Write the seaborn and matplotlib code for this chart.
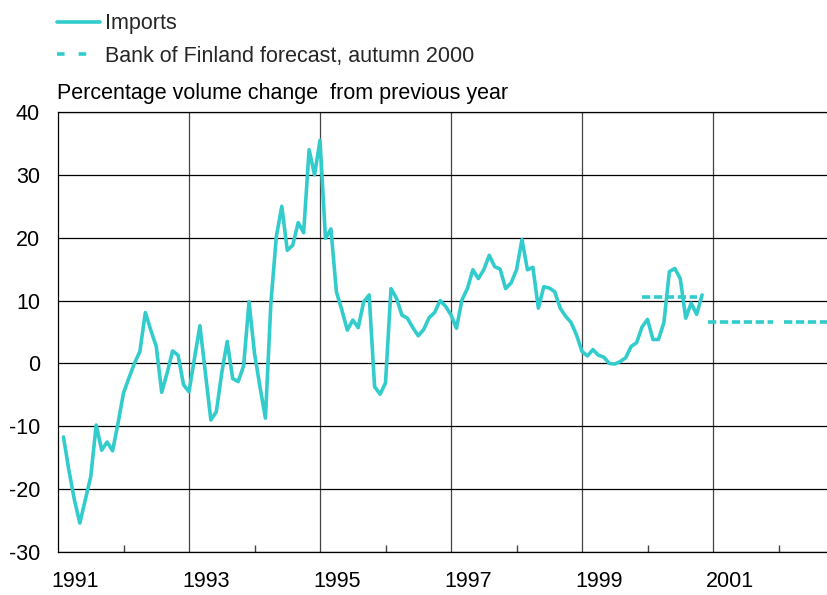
import matplotlib
matplotlib.use("Agg")
import matplotlib.pyplot as plt
from matplotlib.lines import Line2D
import seaborn as sns
import pandas as pd

# --- Data: imports, % volume change from previous year (monthly, Jan 1991 - Oct 2000) ---
imports_1991 = [-11.7, -17.0, -21.7, -25.4, -21.7, -18.0, -9.8, -13.8, -12.5, -13.9, -9.5, -4.7]
imports_1992 = [-2.3, 0.0, 1.9, 8.1, 5.3, 2.7, -4.6, -1.5, 2.0, 1.3, -3.4, -4.5]
imports_1993 = [0.8, 6.0, -1.5, -9.0, -7.7, -1.5, 3.5, -2.4, -2.9, -0.4, 9.8, 1.6]
imports_1994 = [-3.7, -8.7, 9.6, 20.2, 25.0, 18.0, 18.8, 22.4, 20.8, 34.0, 30.0, 35.5]
imports_1995 = [19.9, 21.4, 11.4, 8.5, 5.3, 6.9, 5.7, 9.8, 10.9, -3.7, -4.9, -3.1]
imports_1996 = [11.9, 10.4, 7.7, 7.2, 5.7, 4.4, 5.4, 7.3, 8.1, 10.0, 9.1, 7.7]
imports_1997 = [5.6, 10.1, 11.9, 14.9, 13.5, 14.9, 17.2, 15.4, 15.0, 11.9, 12.8, 14.9]
imports_1998 = [19.7, 14.9, 15.3, 8.8, 12.2, 12.0, 11.4, 8.8, 7.5, 6.5, 4.5, 1.9]
imports_1999 = [1.2, 2.2, 1.3, 1.0, 0.0, -0.1, 0.3, 0.9, 2.7, 3.3, 5.8, 7.0]
imports_2000 = [3.8, 3.8, 6.5, 14.6, 15.1, 13.5, 7.2, 9.6, 7.8, 10.9]

# --- Bank of Finland forecast, autumn 2000 (annual values) ---
fc_years = ["2000", "2001", "2002"]
fc_values = [10.5, 6.6, 6.6]
fc_first_month = ["1999-11", "2000-11", "2002-01"]
fc_last_month = ["2000-09", "2001-11", "2002-12"]

year_labels = ["1991", "1993", "1995", "1997", "1999", "2001"]
color = "#33CCCC"
fs = 15.5


def month_end_pos(periods):
    # month-end position on a decimal-year axis
    return periods.year + periods.month / 12.0


imports = (imports_1991 + imports_1992 + imports_1993 + imports_1994 + imports_1995
           + imports_1996 + imports_1997 + imports_1998 + imports_1999 + imports_2000)
months = pd.period_range("1991-01", periods=len(imports), freq="M")
df = pd.DataFrame({"t": month_end_pos(months), "value": imports})

rows = []
for yr, val, m0, m1 in zip(fc_years, fc_values, fc_first_month, fc_last_month):
    per = pd.period_range(m0, m1, freq="M")
    for t in month_end_pos(per):
        rows.append({"year": yr, "t": t, "value": val})
fc = pd.DataFrame(rows)

sns.set_theme(style="white")
plt.rcParams["font.family"] = ["Liberation Sans", "DejaVu Sans"]
plt.rcParams["axes.unicode_minus"] = False

fig = plt.figure(figsize=(8.27, 5.95), dpi=100)
ax = fig.add_axes([58 / 827, 1 - 552 / 595, 1 - 58 / 827, (552 - 112) / 595])

sns.lineplot(data=fc, x="t", y="value", units="year", estimator=None, ax=ax,
             color=color, lw=2.6, linestyle=(0, (2.3, 1.0)), zorder=3)
sns.lineplot(data=df, x="t", y="value", ax=ax, color=color, lw=2.6, zorder=4)

ax.set_xlim(1991, 2002.74)
ax.set_ylim(-30, 40)
ax.set_yticks(range(-30, 41, 10))
ax.set_xticks([int(y) for y in year_labels[1:]])
ax.set_xticks(range(1992, 2003, 2), minor=True)
ax.yaxis.grid(True, color="black", lw=0.9)
ax.xaxis.grid(True, color="#444444", lw=0.9)
ax.tick_params(axis="x", which="major", length=0, labelbottom=False)
ax.tick_params(axis="x", which="minor", direction="in", length=5, width=1, color="#444444", bottom=True)
ax.tick_params(axis="y", length=0, pad=13, labelsize=fs, labelcolor="black")
ax.set_xlabel("")
ax.set_ylabel("")

for side in ["left", "bottom", "top"]:
    ax.spines[side].set_visible(True)
    ax.spines[side].set_color("black")
    ax.spines[side].set_linewidth(0.9)
ax.spines["right"].set_visible(False)

for lab in year_labels:
    ax.text(int(lab) + 0.26, -0.066, lab, transform=ax.get_xaxis_transform(),
            ha="center", va="center", fontsize=fs, color="black")

fig.text(57 / 827, 1 - 94 / 595, "Percentage volume change  from previous year",
         fontsize=fs, va="center", ha="left", color="black")

handles = [
    Line2D([], [], color=color, lw=2.6),
    Line2D([], [], color=color, lw=2.6, linestyle=(0, (2.1, 3.9))),
]
fig.legend(handles, ["Imports", "Bank of Finland forecast, autumn 2000"],
           loc="upper left", bbox_to_anchor=(53 / 827, 1 - 9 / 595), frameon=False,
           fontsize=fs, handlelength=2.0, handletextpad=0.23, labelspacing=0.53,
           borderpad=0.2, borderaxespad=0)

fig.savefig("out.png", dpi=100)
plt.close(fig)
